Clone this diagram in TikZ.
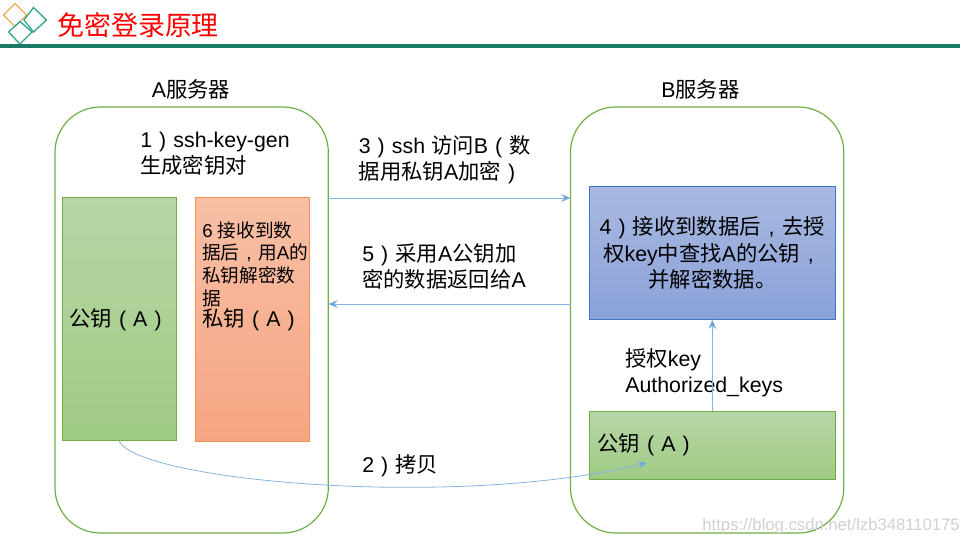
\documentclass[tikz,border=0pt]{standalone}
\usepackage{fontspec}
\setmainfont{Liberation Sans}
\newfontfamily\cjk{Noto Sans CJK SC}
\newcommand{\zh}[1]{{\cjk #1}}
% wide punctuation, centred in its cell
\newcommand{\lp}{\makebox[1em][c]{(}}
\newcommand{\rp}{\makebox[1em][c]{)}}
\newcommand{\cm}{\makebox[1em][c]{,}}
\usetikzlibrary{arrows.meta,calc}
\definecolor{linkblue}{HTML}{5B9BD5}
\definecolor{headgreen}{HTML}{1B7A66}
\definecolor{logoteal}{HTML}{2FA68F}
\definecolor{logoorange}{HTML}{EFB04F}
\definecolor{srvgreen}{HTML}{70AD47}
\definecolor{greentop}{HTML}{B7D5A6}
\definecolor{greenbot}{HTML}{A0CB84}
\definecolor{redtop}{HTML}{F7BFA5}
\definecolor{redbot}{HTML}{F6A582}
\definecolor{redline}{HTML}{F0915A}
\definecolor{bluetop}{HTML}{A9B8E0}
\definecolor{bluebot}{HTML}{8AA2D9}
\definecolor{blueline}{HTML}{4472C4}
\tikzset{
  server/.style={draw=srvgreen, line width=0.9pt, outer sep=0pt, rounded corners=34pt, minimum width=205pt, minimum height=319.5pt, anchor=north west},
  keybox/.style={line width=0.75pt, outer sep=0pt, anchor=north west},
  greenbox/.style={keybox, draw=srvgreen, top color=greentop, bottom color=greenbot},
  redbox/.style={keybox, draw=redline, top color=redtop, bottom color=redbot},
  bluebox/.style={keybox, draw=blueline, top color=bluetop, bottom color=bluebot},
  txt/.style={font=\fontsize{16}{19.5}\selectfont, align=left, anchor=west, inner sep=0pt},
  small/.style={font=\fontsize{14}{17}\selectfont, align=left, anchor=west, inner sep=0pt},
  link/.style={draw=linkblue!75, line width=0.6pt, -{Stealth[length=7pt,width=6pt,fill=linkblue]}},
}
\begin{document}
\begin{tikzpicture}[x=0.75pt,y=-0.75pt]
  \useasboundingbox (0,0) rectangle (970,545);
  % header
  \draw[logoorange,line width=1pt] (3.5,15) -- (15,3.5) -- (26.5,15) -- (15,26.5) -- cycle;
  \draw[logoteal,line width=1pt] (24,20) -- (33.5,7.5) -- (46.5,20) -- (33.5,32) -- cycle;
  \draw[logoteal,line width=1pt] (8.5,32) -- (20,21.5) -- (32,32) -- (20,44) -- cycle;
  \fill[headgreen] (0,44) rectangle (960,48);
  \node[anchor=west,inner sep=0pt,text=red,font=\fontsize{20.2}{24}\cjk\selectfont] (title) at (57,25) {免密登录原理};
  % servers
  \node[server] (srvA) at (55,107) {};
  \node[server] (srvB) at (570.5,107) {};
  \node[txt,anchor=center] (nameA) at (191,89.5) {A\zh{服务器}};
  \node[txt,anchor=center] (nameB) at (700.5,89.5) {B\zh{服务器}};
  % boxes
  \node[greenbox,minimum width=85.5pt,minimum height=182pt,font=\fontsize{16}{19.5}\selectfont] (pubA) at (62,198) {\zh{公钥}\lp A\rp};
  \node[redbox,minimum width=85.5pt,minimum height=182.5pt] (privA) at (195,198) {};
  \node[bluebox,minimum width=185pt,minimum height=99.5pt,align=center,font=\fontsize{16}{19.8}\selectfont] (decB) at (589,187) {4\rp\zh{接收到数据后}\cm\zh{去授}\\\zh{权}key\zh{中查找}A\zh{的公钥}\cm\\\zh{并解密数据。}};
  \node[greenbox,minimum width=185pt,minimum height=51.5pt] (pubB) at (589,411) {};
  % labels
  \node[txt] (gen) at (140,154) {1\rp ssh-key-gen\\\zh{生成密钥对}};
  \node[small] (recv) at (202,264) {6 \zh{接收到数}\\\zh{据后}\cm\zh{用}A\zh{的}\\\zh{私钥解密数}\\\zh{据}};
  \node[txt] (privtxt) at (202,320) {\zh{私钥}\lp A\rp};
  \node[txt] (visit) at (358.5,160) {3\rp ssh \zh{访问}B\lp\zh{数}\\\zh{据用私钥}A\zh{加密}\rp};
  \node[txt] (ret) at (362,266) {5\rp\zh{采用}A\zh{公钥加}\\\zh{密的数据返回给}A};
  \node[txt] (copy) at (362,466) {2\rp\zh{拷贝}};
  \node[txt] (auth) at (625,373) {\zh{授权}key\\Authorized\_keys};
  \node[txt] (pubtxt) at (597,445) {\zh{公钥}\lp A\rp};
  \node[anchor=east,inner sep=0pt,text=black!18,font=\fontsize{12.5}{15}\selectfont] (mark) at (960,526) {https://blog.csdn.net/lzb348110175};
  % connectors
  \coordinate (c3) at (450,198);
  \coordinate (c5) at (450,304);
  \coordinate (end2) at (647,463);
  \draw[link] (srvA.east |- c3) -- (srvB.west |- c3);
  \draw[link] (srvB.west |- c5) -- (srvA.east |- c5);
  \draw[link] (pubA.south) .. controls (135,480) and (450,510) .. (end2);
  \draw[link] (pubB.north) -- (decB.south);
\end{tikzpicture}
\end{document}
